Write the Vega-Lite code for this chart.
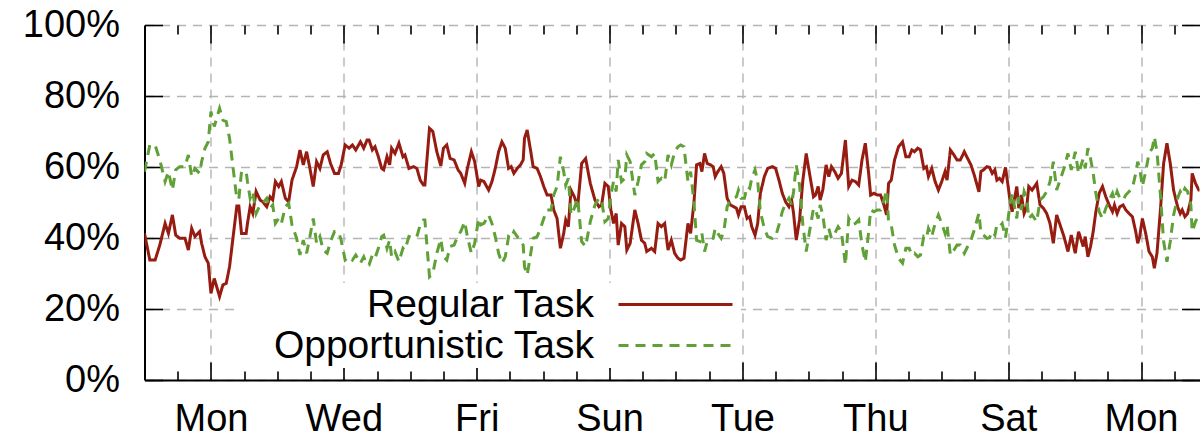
{
"$schema": "https://vega.github.io/schema/vega-lite/v6.json",
"width": 1055,
"height": 355,
"autosize": {"type": "none"},
"padding": {"left": 144.5, "top": 25, "right": 0.5, "bottom": 57},
"background": "white",
"config": {"view": {"stroke": null}, "font": "Liberation Sans"},
"data": {"values": [
{"d":0.00,"regular":41.3,"opportunistic":58.7},
{"d":0.08,"regular":33.8,"opportunistic":66.2},
{"d":0.16,"regular":33.8,"opportunistic":66.2},
{"d":0.23,"regular":38.0,"opportunistic":62.0},
{"d":0.31,"regular":44.1,"opportunistic":55.9},
{"d":0.36,"regular":41.3,"opportunistic":58.7},
{"d":0.42,"regular":46.5,"opportunistic":53.5},
{"d":0.47,"regular":40.8,"opportunistic":59.2},
{"d":0.53,"regular":39.9,"opportunistic":60.1},
{"d":0.61,"regular":39.9,"opportunistic":60.1},
{"d":0.66,"regular":36.6,"opportunistic":63.4},
{"d":0.71,"regular":42.7,"opportunistic":57.3},
{"d":0.76,"regular":40.4,"opportunistic":59.6},
{"d":0.83,"regular":41.8,"opportunistic":58.2},
{"d":0.86,"regular":38.5,"opportunistic":61.5},
{"d":0.91,"regular":34.7,"opportunistic":65.3},
{"d":0.96,"regular":32.9,"opportunistic":67.1},
{"d":1.00,"regular":24.4,"opportunistic":75.6},
{"d":1.05,"regular":28.6,"opportunistic":71.4},
{"d":1.13,"regular":23.5,"opportunistic":76.5},
{"d":1.18,"regular":26.8,"opportunistic":73.2},
{"d":1.23,"regular":27.2,"opportunistic":72.8},
{"d":1.28,"regular":31.9,"opportunistic":68.1},
{"d":1.34,"regular":41.3,"opportunistic":58.7},
{"d":1.39,"regular":49.0,"opportunistic":51.0},
{"d":1.42,"regular":49.0,"opportunistic":51.0},
{"d":1.46,"regular":41.3,"opportunistic":58.7},
{"d":1.53,"regular":41.3,"opportunistic":58.7},
{"d":1.55,"regular":44.1,"opportunistic":55.9},
{"d":1.59,"regular":48.8,"opportunistic":51.2},
{"d":1.63,"regular":46.9,"opportunistic":53.1},
{"d":1.68,"regular":53.1,"opportunistic":46.9},
{"d":1.74,"regular":50.7,"opportunistic":49.3},
{"d":1.78,"regular":50.2,"opportunistic":49.8},
{"d":1.84,"regular":48.8,"opportunistic":51.2},
{"d":1.89,"regular":51.6,"opportunistic":48.4},
{"d":1.93,"regular":50.7,"opportunistic":49.3},
{"d":1.97,"regular":55.9,"opportunistic":44.1},
{"d":2.02,"regular":54.5,"opportunistic":45.5},
{"d":2.06,"regular":55.9,"opportunistic":44.1},
{"d":2.12,"regular":51.2,"opportunistic":48.8},
{"d":2.17,"regular":50.2,"opportunistic":49.8},
{"d":2.22,"regular":56.3,"opportunistic":43.7},
{"d":2.29,"regular":60.1,"opportunistic":39.9},
{"d":2.34,"regular":64.8,"opportunistic":35.2},
{"d":2.39,"regular":60.6,"opportunistic":39.4},
{"d":2.44,"regular":64.3,"opportunistic":35.7},
{"d":2.49,"regular":59.6,"opportunistic":40.4},
{"d":2.54,"regular":54.5,"opportunistic":45.5},
{"d":2.59,"regular":61.5,"opportunistic":38.5},
{"d":2.64,"regular":59.6,"opportunistic":40.4},
{"d":2.69,"regular":63.4,"opportunistic":36.6},
{"d":2.75,"regular":64.3,"opportunistic":35.7},
{"d":2.80,"regular":61.0,"opportunistic":39.0},
{"d":2.86,"regular":58.2,"opportunistic":41.8},
{"d":2.92,"regular":58.2,"opportunistic":41.8},
{"d":2.96,"regular":60.6,"opportunistic":39.4},
{"d":3.02,"regular":66.2,"opportunistic":33.8},
{"d":3.08,"regular":65.3,"opportunistic":34.7},
{"d":3.13,"regular":66.2,"opportunistic":33.8},
{"d":3.18,"regular":64.8,"opportunistic":35.2},
{"d":3.25,"regular":67.1,"opportunistic":32.9},
{"d":3.30,"regular":65.3,"opportunistic":34.7},
{"d":3.35,"regular":67.6,"opportunistic":32.4},
{"d":3.38,"regular":67.6,"opportunistic":32.4},
{"d":3.43,"regular":64.8,"opportunistic":35.2},
{"d":3.47,"regular":65.7,"opportunistic":34.3},
{"d":3.52,"regular":62.9,"opportunistic":37.1},
{"d":3.57,"regular":59.6,"opportunistic":40.4},
{"d":3.60,"regular":59.2,"opportunistic":40.8},
{"d":3.65,"regular":62.9,"opportunistic":37.1},
{"d":3.69,"regular":60.6,"opportunistic":39.4},
{"d":3.72,"regular":65.3,"opportunistic":34.7},
{"d":3.77,"regular":63.8,"opportunistic":36.2},
{"d":3.83,"regular":66.7,"opportunistic":33.3},
{"d":3.89,"regular":62.9,"opportunistic":37.1},
{"d":3.92,"regular":63.4,"opportunistic":36.6},
{"d":3.98,"regular":59.6,"opportunistic":40.4},
{"d":4.05,"regular":60.1,"opportunistic":39.9},
{"d":4.10,"regular":59.6,"opportunistic":40.4},
{"d":4.15,"regular":56.3,"opportunistic":43.7},
{"d":4.20,"regular":54.9,"opportunistic":45.1},
{"d":4.22,"regular":54.9,"opportunistic":45.1},
{"d":4.29,"regular":70.9,"opportunistic":29.1},
{"d":4.34,"regular":70.0,"opportunistic":30.0},
{"d":4.40,"regular":64.3,"opportunistic":35.7},
{"d":4.46,"regular":60.3,"opportunistic":39.7},
{"d":4.50,"regular":65.3,"opportunistic":34.7},
{"d":4.55,"regular":66.2,"opportunistic":33.8},
{"d":4.60,"regular":62.4,"opportunistic":37.6},
{"d":4.66,"regular":62.0,"opportunistic":38.0},
{"d":4.72,"regular":59.2,"opportunistic":40.8},
{"d":4.76,"regular":58.2,"opportunistic":41.8},
{"d":4.82,"regular":55.4,"opportunistic":44.6},
{"d":4.86,"regular":59.6,"opportunistic":40.4},
{"d":4.92,"regular":64.3,"opportunistic":35.7},
{"d":4.97,"regular":61.5,"opportunistic":38.5},
{"d":5.03,"regular":54.5,"opportunistic":45.5},
{"d":5.06,"regular":56.3,"opportunistic":43.7},
{"d":5.11,"regular":55.9,"opportunistic":44.1},
{"d":5.18,"regular":53.5,"opportunistic":46.5},
{"d":5.23,"regular":55.9,"opportunistic":44.1},
{"d":5.28,"regular":59.6,"opportunistic":40.4},
{"d":5.33,"regular":64.3,"opportunistic":35.7},
{"d":5.38,"regular":67.1,"opportunistic":32.9},
{"d":5.43,"regular":65.3,"opportunistic":34.7},
{"d":5.48,"regular":59.6,"opportunistic":40.4},
{"d":5.52,"regular":60.1,"opportunistic":39.9},
{"d":5.56,"regular":58.2,"opportunistic":41.8},
{"d":5.61,"regular":59.6,"opportunistic":40.4},
{"d":5.66,"regular":60.6,"opportunistic":39.4},
{"d":5.70,"regular":62.0,"opportunistic":38.0},
{"d":5.72,"regular":68.1,"opportunistic":31.9},
{"d":5.76,"regular":70.4,"opportunistic":29.6},
{"d":5.81,"regular":64.8,"opportunistic":35.2},
{"d":5.85,"regular":60.1,"opportunistic":39.9},
{"d":5.91,"regular":59.6,"opportunistic":40.4},
{"d":5.96,"regular":57.3,"opportunistic":42.7},
{"d":6.01,"regular":54.5,"opportunistic":45.5},
{"d":6.06,"regular":52.1,"opportunistic":47.9},
{"d":6.12,"regular":52.1,"opportunistic":47.9},
{"d":6.16,"regular":47.9,"opportunistic":52.1},
{"d":6.21,"regular":45.5,"opportunistic":54.5},
{"d":6.26,"regular":37.1,"opportunistic":62.9},
{"d":6.31,"regular":41.3,"opportunistic":58.7},
{"d":6.34,"regular":45.1,"opportunistic":54.9},
{"d":6.38,"regular":43.2,"opportunistic":56.8},
{"d":6.42,"regular":53.5,"opportunistic":46.5},
{"d":6.47,"regular":51.6,"opportunistic":48.4},
{"d":6.52,"regular":48.8,"opportunistic":51.2},
{"d":6.58,"regular":61.0,"opportunistic":39.0},
{"d":6.64,"regular":62.4,"opportunistic":37.6},
{"d":6.71,"regular":55.4,"opportunistic":44.6},
{"d":6.78,"regular":50.7,"opportunistic":49.3},
{"d":6.84,"regular":48.8,"opportunistic":51.2},
{"d":6.88,"regular":49.3,"opportunistic":50.7},
{"d":6.93,"regular":55.4,"opportunistic":44.6},
{"d":6.98,"regular":54.5,"opportunistic":45.5},
{"d":7.02,"regular":47.9,"opportunistic":52.1},
{"d":7.06,"regular":44.1,"opportunistic":55.9},
{"d":7.10,"regular":46.9,"opportunistic":53.1},
{"d":7.13,"regular":38.0,"opportunistic":62.0},
{"d":7.18,"regular":44.1,"opportunistic":55.9},
{"d":7.23,"regular":43.2,"opportunistic":56.8},
{"d":7.26,"regular":36.6,"opportunistic":63.4},
{"d":7.31,"regular":38.5,"opportunistic":61.5},
{"d":7.38,"regular":47.9,"opportunistic":52.1},
{"d":7.43,"regular":44.1,"opportunistic":55.9},
{"d":7.48,"regular":39.4,"opportunistic":60.6},
{"d":7.53,"regular":38.5,"opportunistic":61.5},
{"d":7.56,"regular":36.2,"opportunistic":63.8},
{"d":7.63,"regular":37.1,"opportunistic":62.9},
{"d":7.68,"regular":36.2,"opportunistic":63.8},
{"d":7.73,"regular":44.1,"opportunistic":55.9},
{"d":7.78,"regular":43.2,"opportunistic":56.8},
{"d":7.83,"regular":44.1,"opportunistic":55.9},
{"d":7.88,"regular":36.6,"opportunistic":63.4},
{"d":7.93,"regular":39.4,"opportunistic":60.6},
{"d":7.98,"regular":35.7,"opportunistic":64.3},
{"d":8.03,"regular":34.3,"opportunistic":65.7},
{"d":8.07,"regular":33.8,"opportunistic":66.2},
{"d":8.12,"regular":34.3,"opportunistic":65.7},
{"d":8.14,"regular":37.6,"opportunistic":62.4},
{"d":8.18,"regular":44.1,"opportunistic":55.9},
{"d":8.22,"regular":41.3,"opportunistic":58.7},
{"d":8.27,"regular":49.8,"opportunistic":50.2},
{"d":8.31,"regular":60.6,"opportunistic":39.4},
{"d":8.36,"regular":61.0,"opportunistic":39.0},
{"d":8.39,"regular":58.7,"opportunistic":41.3},
{"d":8.43,"regular":63.8,"opportunistic":36.2},
{"d":8.47,"regular":61.0,"opportunistic":39.0},
{"d":8.52,"regular":60.6,"opportunistic":39.4},
{"d":8.56,"regular":60.1,"opportunistic":39.9},
{"d":8.59,"regular":57.3,"opportunistic":42.7},
{"d":8.63,"regular":58.7,"opportunistic":41.3},
{"d":8.68,"regular":60.1,"opportunistic":39.9},
{"d":8.72,"regular":58.2,"opportunistic":41.8},
{"d":8.77,"regular":51.2,"opportunistic":48.8},
{"d":8.82,"regular":49.3,"opportunistic":50.7},
{"d":8.87,"regular":48.8,"opportunistic":51.2},
{"d":8.91,"regular":48.4,"opportunistic":51.6},
{"d":8.94,"regular":46.5,"opportunistic":53.5},
{"d":8.98,"regular":48.8,"opportunistic":51.2},
{"d":9.03,"regular":48.8,"opportunistic":51.2},
{"d":9.07,"regular":45.5,"opportunistic":54.5},
{"d":9.11,"regular":46.0,"opportunistic":54.0},
{"d":9.14,"regular":43.2,"opportunistic":56.8},
{"d":9.19,"regular":40.8,"opportunistic":59.2},
{"d":9.23,"regular":44.1,"opportunistic":55.9},
{"d":9.27,"regular":52.6,"opportunistic":47.4},
{"d":9.33,"regular":57.3,"opportunistic":42.7},
{"d":9.38,"regular":59.6,"opportunistic":40.4},
{"d":9.45,"regular":60.1,"opportunistic":39.9},
{"d":9.50,"regular":59.6,"opportunistic":40.4},
{"d":9.55,"regular":56.3,"opportunistic":43.7},
{"d":9.60,"regular":52.6,"opportunistic":47.4},
{"d":9.65,"regular":50.2,"opportunistic":49.8},
{"d":9.70,"regular":48.8,"opportunistic":51.2},
{"d":9.74,"regular":50.7,"opportunistic":49.3},
{"d":9.77,"regular":46.9,"opportunistic":53.1},
{"d":9.81,"regular":39.4,"opportunistic":60.6},
{"d":9.86,"regular":45.1,"opportunistic":54.9},
{"d":9.91,"regular":56.3,"opportunistic":43.7},
{"d":9.96,"regular":63.8,"opportunistic":36.2},
{"d":10.01,"regular":58.2,"opportunistic":41.8},
{"d":10.07,"regular":51.6,"opportunistic":48.4},
{"d":10.10,"regular":52.1,"opportunistic":47.9},
{"d":10.14,"regular":54.5,"opportunistic":45.5},
{"d":10.17,"regular":50.7,"opportunistic":49.3},
{"d":10.21,"regular":53.5,"opportunistic":46.5},
{"d":10.26,"regular":60.6,"opportunistic":39.4},
{"d":10.30,"regular":57.3,"opportunistic":42.7},
{"d":10.34,"regular":60.1,"opportunistic":39.9},
{"d":10.39,"regular":58.7,"opportunistic":41.3},
{"d":10.44,"regular":56.8,"opportunistic":43.2},
{"d":10.49,"regular":58.2,"opportunistic":41.8},
{"d":10.55,"regular":67.6,"opportunistic":32.4},
{"d":10.60,"regular":54.5,"opportunistic":45.5},
{"d":10.65,"regular":56.3,"opportunistic":43.7},
{"d":10.70,"regular":55.9,"opportunistic":44.1},
{"d":10.75,"regular":54.9,"opportunistic":45.1},
{"d":10.80,"regular":62.0,"opportunistic":38.0},
{"d":10.85,"regular":66.7,"opportunistic":33.3},
{"d":10.90,"regular":58.2,"opportunistic":41.8},
{"d":10.93,"regular":52.1,"opportunistic":47.9},
{"d":10.98,"regular":52.6,"opportunistic":47.4},
{"d":11.03,"regular":52.1,"opportunistic":47.9},
{"d":11.08,"regular":52.1,"opportunistic":47.9},
{"d":11.13,"regular":49.3,"opportunistic":50.7},
{"d":11.17,"regular":46.5,"opportunistic":53.5},
{"d":11.20,"regular":55.4,"opportunistic":44.6},
{"d":11.24,"regular":56.3,"opportunistic":43.7},
{"d":11.29,"regular":62.0,"opportunistic":38.0},
{"d":11.35,"regular":65.7,"opportunistic":34.3},
{"d":11.41,"regular":67.1,"opportunistic":32.9},
{"d":11.46,"regular":62.9,"opportunistic":37.1},
{"d":11.51,"regular":62.9,"opportunistic":37.1},
{"d":11.55,"regular":64.8,"opportunistic":35.2},
{"d":11.59,"regular":64.3,"opportunistic":35.7},
{"d":11.64,"regular":65.3,"opportunistic":34.7},
{"d":11.68,"regular":64.8,"opportunistic":35.2},
{"d":11.73,"regular":59.6,"opportunistic":40.4},
{"d":11.77,"regular":60.1,"opportunistic":39.9},
{"d":11.80,"regular":57.3,"opportunistic":42.7},
{"d":11.85,"regular":59.6,"opportunistic":40.4},
{"d":11.90,"regular":55.9,"opportunistic":44.1},
{"d":11.95,"regular":53.5,"opportunistic":46.5},
{"d":12.00,"regular":55.9,"opportunistic":44.1},
{"d":12.05,"regular":58.7,"opportunistic":41.3},
{"d":12.08,"regular":56.3,"opportunistic":43.7},
{"d":12.13,"regular":64.8,"opportunistic":35.2},
{"d":12.18,"regular":63.5,"opportunistic":36.5},
{"d":12.23,"regular":62.0,"opportunistic":38.0},
{"d":12.28,"regular":62.0,"opportunistic":38.0},
{"d":12.34,"regular":64.3,"opportunistic":35.7},
{"d":12.39,"regular":62.4,"opportunistic":37.6},
{"d":12.44,"regular":60.6,"opportunistic":39.4},
{"d":12.49,"regular":57.7,"opportunistic":42.3},
{"d":12.56,"regular":53.0,"opportunistic":47.0},
{"d":12.59,"regular":58.7,"opportunistic":41.3},
{"d":12.63,"regular":59.2,"opportunistic":40.8},
{"d":12.68,"regular":60.1,"opportunistic":39.9},
{"d":12.72,"regular":59.9,"opportunistic":40.1},
{"d":12.76,"regular":58.2,"opportunistic":41.8},
{"d":12.80,"regular":59.2,"opportunistic":40.8},
{"d":12.83,"regular":56.3,"opportunistic":43.7},
{"d":12.87,"regular":56.8,"opportunistic":43.2},
{"d":12.91,"regular":55.9,"opportunistic":44.1},
{"d":12.96,"regular":59.9,"opportunistic":40.1},
{"d":13.00,"regular":54.5,"opportunistic":45.5},
{"d":13.03,"regular":50.2,"opportunistic":49.8},
{"d":13.06,"regular":47.4,"opportunistic":52.6},
{"d":13.10,"regular":51.6,"opportunistic":48.4},
{"d":13.13,"regular":54.5,"opportunistic":45.5},
{"d":13.16,"regular":48.4,"opportunistic":51.6},
{"d":13.20,"regular":52.1,"opportunistic":47.9},
{"d":13.24,"regular":46.9,"opportunistic":53.1},
{"d":13.28,"regular":48.8,"opportunistic":51.2},
{"d":13.31,"regular":54.5,"opportunistic":45.5},
{"d":13.36,"regular":53.5,"opportunistic":46.5},
{"d":13.43,"regular":55.4,"opportunistic":44.6},
{"d":13.48,"regular":49.3,"opportunistic":50.7},
{"d":13.53,"regular":48.4,"opportunistic":51.6},
{"d":13.58,"regular":46.9,"opportunistic":53.1},
{"d":13.63,"regular":44.1,"opportunistic":55.9},
{"d":13.68,"regular":38.5,"opportunistic":61.5},
{"d":13.73,"regular":46.5,"opportunistic":53.5},
{"d":13.79,"regular":43.2,"opportunistic":56.8},
{"d":13.84,"regular":40.4,"opportunistic":59.6},
{"d":13.90,"regular":36.2,"opportunistic":63.8},
{"d":13.95,"regular":40.8,"opportunistic":59.2},
{"d":14.01,"regular":35.7,"opportunistic":64.3},
{"d":14.06,"regular":41.8,"opportunistic":58.2},
{"d":14.13,"regular":37.6,"opportunistic":62.4},
{"d":14.16,"regular":40.4,"opportunistic":59.6},
{"d":14.20,"regular":34.7,"opportunistic":65.3},
{"d":14.24,"regular":37.6,"opportunistic":62.4},
{"d":14.28,"regular":41.8,"opportunistic":58.2},
{"d":14.32,"regular":47.4,"opportunistic":52.6},
{"d":14.37,"regular":52.6,"opportunistic":47.4},
{"d":14.42,"regular":54.5,"opportunistic":45.5},
{"d":14.47,"regular":51.6,"opportunistic":48.4},
{"d":14.52,"regular":49.3,"opportunistic":50.7},
{"d":14.57,"regular":47.4,"opportunistic":52.6},
{"d":14.60,"regular":49.3,"opportunistic":50.7},
{"d":14.64,"regular":46.9,"opportunistic":53.1},
{"d":14.68,"regular":48.8,"opportunistic":51.2},
{"d":14.73,"regular":49.3,"opportunistic":50.7},
{"d":14.77,"regular":47.9,"opportunistic":52.1},
{"d":14.82,"regular":46.9,"opportunistic":53.1},
{"d":14.87,"regular":46.0,"opportunistic":54.0},
{"d":14.92,"regular":41.8,"opportunistic":58.2},
{"d":14.95,"regular":38.5,"opportunistic":61.5},
{"d":14.98,"regular":40.4,"opportunistic":59.6},
{"d":15.02,"regular":45.5,"opportunistic":54.5},
{"d":15.07,"regular":41.3,"opportunistic":58.7},
{"d":15.12,"regular":36.2,"opportunistic":63.8},
{"d":15.17,"regular":34.7,"opportunistic":65.3},
{"d":15.20,"regular":31.5,"opportunistic":68.5},
{"d":15.24,"regular":35.7,"opportunistic":64.3},
{"d":15.29,"regular":47.4,"opportunistic":52.6},
{"d":15.34,"regular":61.0,"opportunistic":39.0},
{"d":15.39,"regular":66.7,"opportunistic":33.3},
{"d":15.44,"regular":61.0,"opportunistic":39.0},
{"d":15.49,"regular":53.5,"opportunistic":46.5},
{"d":15.55,"regular":48.8,"opportunistic":51.2},
{"d":15.59,"regular":46.9,"opportunistic":53.1},
{"d":15.62,"regular":47.9,"opportunistic":52.1},
{"d":15.66,"regular":46.0,"opportunistic":54.0},
{"d":15.70,"regular":46.9,"opportunistic":53.1},
{"d":15.75,"regular":50.7,"opportunistic":49.3},
{"d":15.77,"regular":58.2,"opportunistic":41.8},
{"d":15.82,"regular":55.4,"opportunistic":44.6},
{"d":15.87,"regular":53.5,"opportunistic":46.5},
{"d":15.90,"regular":53.5,"opportunistic":46.5}
]},
"transform": [{"fold": ["regular", "opportunistic"], "as": ["series", "pct"]}],
"layer": [
{
"mark": {"type": "line", "strokeWidth": 3, "clip": true},
"encoding": {
"x": {"field": "d", "type": "quantitative", "scale": {"domain": [0, 15.88], "nice": false, "zero": false},
"axis": {"orient": "bottom", "values": [1,3,5,7,9,11,13,15], "labelExpr": "['Sun','Mon','Tue','Wed','Thu','Fri','Sat'][datum.value % 7]", "labelFont": "Liberation Sans", "labelFontSize": 38, "labelColor": "#000000", "labelBaseline": "alphabetic", "labelPadding": 50, "labelOverlap": false, "labelFlush": false, "labelBound": false, "ticks": false, "domain": true, "domainColor": "#000000", "domainWidth": 2, "grid": true, "gridColor": "#b4b4b4", "gridDash": [9,7], "gridWidth": 1.4, "title": null}},
"y": {"field": "pct", "type": "quantitative", "scale": {"domain": [0, 100], "nice": false},
"axis": {"orient": "left", "values": [0,20,40,60,80,100], "labelExpr": "datum.value + '%'", "labelFont": "Liberation Sans", "labelFontSize": 38, "labelColor": "#000000", "labelPadding": 25, "labelOverlap": false, "labelFlush": false, "labelBound": false, "ticks": false, "domain": true, "domainColor": "#000000", "domainWidth": 2, "grid": true, "gridColor": "#b4b4b4", "gridDash": [9,7], "gridWidth": 1.4, "title": null}},
"color": {"field": "series", "type": "nominal", "scale": {"domain": ["regular", "opportunistic"], "range": ["#961c12", "#5fa037"]},
"legend": {"orient": "none", "legendX": 93.5, "legendY": 258, "title": null, "direction": "vertical", "symbolType": "M-37.8,0M0,0H11.4", "symbolSize": 400, "symbolStrokeWidth": 3, "symbolOffset": 359, "labelOffset": -44, "labelAlign": "right", "labelFont": "Liberation Sans", "labelFontSize": 39, "labelColor": "#000000", "labelLimit": 500, "fillColor": "white", "padding": 2, "rowPadding": 1, "labelExpr": "datum.label == 'regular' ? 'Regular Task' : 'Opportunistic Task'"}},
"strokeDash": {"field": "series", "type": "nominal", "scale": {"domain": ["regular", "opportunistic"], "range": [[1,0],[10,7]]},
"legend": {"orient": "none", "legendX": 93.5, "legendY": 258, "title": null, "direction": "vertical", "symbolType": "M-37.8,0M0,0H11.4", "symbolSize": 400, "symbolStrokeWidth": 3, "symbolOffset": 359, "labelOffset": -44, "labelAlign": "right", "labelFont": "Liberation Sans", "labelFontSize": 39, "labelColor": "#000000", "labelLimit": 500, "fillColor": "white", "padding": 2, "rowPadding": 1, "labelExpr": "datum.label == 'regular' ? 'Regular Task' : 'Opportunistic Task'"}}
}
},
{
"mark": {"type": "point", "opacity": 0},
"encoding": {
"x": {"field": "d", "type": "quantitative", "scale": {"domain": [0, 15.88], "nice": false, "zero": false},
"axis": {"orient": "bottom", "values": [0.5,1,1.5,2,2.5,3,3.5,4,4.5,5,5.5,6,6.5,7,7.5,8,8.5,9,9.5,10,10.5,11,11.5,12,12.5,13,13.5,14,14.5,15,15.5], "labels": false, "domain": false, "grid": false, "ticks": true, "tickColor": "#000000", "tickWidth": 1.6, "tickSize": {"condition": {"test": "datum.value % 2 == 1", "value": -18}, "value": -9}, "title": null}},
"y": {"field": "pct", "type": "quantitative", "scale": {"domain": [0, 100], "nice": false},
"axis": {"orient": "left", "values": [0,20,40,60,80,100], "labels": false, "domain": false, "grid": false, "ticks": true, "tickColor": "#000000", "tickWidth": 1.6, "tickSize": -18, "title": null}}
}
},
{
"mark": {"type": "point", "opacity": 0},
"encoding": {
"x": {"field": "d", "type": "quantitative", "scale": {"domain": [0, 15.88], "nice": false, "zero": false},
"axis": {"orient": "top", "values": [0.5,1,1.5,2,2.5,3,3.5,4,4.5,5,5.5,6,6.5,7,7.5,8,8.5,9,9.5,10,10.5,11,11.5,12,12.5,13,13.5,14,14.5,15,15.5], "labels": false, "domain": false, "grid": false, "ticks": true, "tickColor": "#000000", "tickWidth": 1.6, "tickSize": {"condition": {"test": "datum.value % 2 == 1", "value": -18}, "value": -9}, "title": null}},
"y": {"field": "pct", "type": "quantitative", "scale": {"domain": [0, 100], "nice": false},
"axis": {"orient": "right", "values": [0,20,40,60,80,100], "labels": false, "domain": false, "grid": false, "ticks": true, "tickColor": "#000000", "tickWidth": 1.6, "tickSize": -18, "title": null}}
}
}
],
"resolve": {"axis": {"x": "independent", "y": "independent"}}
}
